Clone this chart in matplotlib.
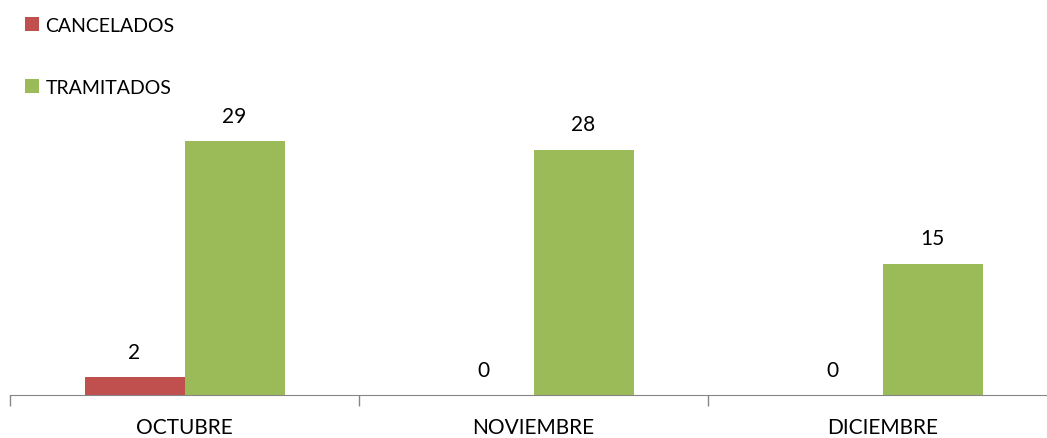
import matplotlib.pyplot as plt
import numpy as np

meses = ["OCTUBRE", "NOVIEMBRE", "DICIEMBRE"]
cancelados = [2, 0, 0]
tramitados = [29, 28, 15]

plt.rcParams['font.family'] = ['Lato', 'DejaVu Sans']

fig = plt.figure(figsize=(10.47, 4.39), dpi=100)
ax = fig.add_axes([10/1047, 43/439, 1047/1047, 396/439])

x = np.arange(len(meses))
w = 100/349  # bar width in category units
b1 = ax.bar(x - w/2, cancelados, w, color="#C0504D", label="CANCELADOS")
b2 = ax.bar(x + w/2, tramitados, w, color="#9BBB59", label="TRAMITADOS")

for bars, vals in ((b1, cancelados), (b2, tramitados)):
    for r, v in zip(bars, vals):
        ax.annotate(str(v), (r.get_x() + r.get_width()/2, v), xytext=(0, 11),
                    textcoords="offset points", ha="center", va="bottom", fontsize=15)

ax.set_xlim(-0.5, 2.5)
ax.set_ylim(0, 45.2)
ax.set_xticks([-0.5, 0.5, 1.5, 2.5])
ax.set_xticklabels([])
ax.set_xticks(x, minor=True)
ax.set_xticklabels(meses, minor=True, fontsize=15)
ax.tick_params(axis='x', which='major', length=8, color="#868686", width=1)
ax.tick_params(axis='x', which='minor', length=0, pad=16)
ax.set_yticks([])
for s in ["top", "right", "left"]:
    ax.spines[s].set_visible(False)
ax.spines["bottom"].set_color("#868686")

fig.legend(loc="upper left", bbox_to_anchor=(25/1047, 1 - 18/439), frameon=False,
           fontsize=14, handlelength=0.7, handleheight=0.7, handletextpad=0.35,
           labelspacing=2.3, borderaxespad=0, borderpad=0)

fig.savefig("out.png", dpi=100)
